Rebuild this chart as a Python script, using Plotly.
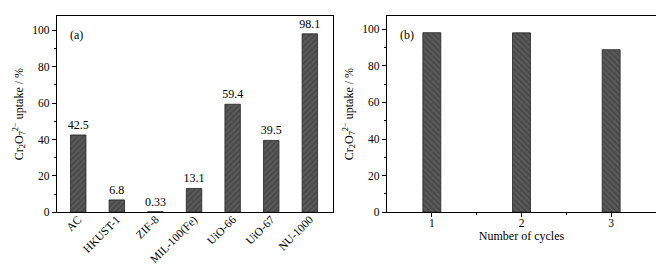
import plotly.graph_objects as go

materials = ["AC", "HKUST-1", "ZIF-8", "MIL-100(Fe)", "UiO-66", "UiO-67", "NU-1000"]
uptake = [42.5, 6.8, 0.33, 13.1, 59.4, 39.5, 98.1]
uptake_labels = ["42.5", "6.8", "0.33", "13.1", "59.4", "39.5", "98.1"]

cycles = [1, 2, 3]
cycle_uptake = [98.1, 98.0, 88.8]

FONT = "Liberation Serif"
FS = 11.5
ytitle = "Cr<sub>2</sub>O<sub>7</sub><sup>2−</sup> uptake / %"

fig = go.Figure()
fig.add_trace(go.Bar(
    x=list(range(len(materials))), y=uptake, text=uptake_labels,
    textposition="outside", cliponaxis=False, constraintext="none",
    textfont=dict(family=FONT, size=12, color="black"),
    width=0.4,
    marker=dict(color="#444", line=dict(color="#222", width=0.8),
                pattern=dict(shape="/", fgcolor="#2a2a2a", bgcolor="#595959", size=4, solidity=0.3)),
    xaxis="x", yaxis="y", showlegend=False))
fig.add_trace(go.Bar(
    x=cycles, y=cycle_uptake, width=0.2,
    marker=dict(color="#444", line=dict(color="#222", width=0.8),
                pattern=dict(shape="\\", fgcolor="#2a2a2a", bgcolor="#595959", size=4, solidity=0.3)),
    xaxis="x2", yaxis="y2", showlegend=False))

axcommon = dict(showline=True, linecolor="black", linewidth=1.2, mirror=True,
                showgrid=False, zeroline=False, tickcolor="black",
                tickfont=dict(family=FONT, size=FS, color="black"))

fig.update_layout(
    width=664, height=265, margin=dict(l=0, r=0, t=0, b=0),
    paper_bgcolor="white", plot_bgcolor="white",
    font=dict(family=FONT, color="black"),
    xaxis=dict(domain=[49/664, 325/664], range=[-0.55, 6.6],
               tickmode="array", tickvals=list(range(len(materials))), ticktext=materials,
               tickangle=-45, ticks="", ticklabelstandoff=-5, anchor="y", **axcommon),
    yaxis=dict(domain=[1-209/265, 1-8/265], range=[0, 108], tickvals=[0, 20, 40, 60, 80, 100],
               ticks="outside", ticklen=4,
               minor=dict(tickvals=[10, 30, 50, 70, 90], ticks="outside", ticklen=2, tickcolor="black"),
               title=dict(text=ytitle, font=dict(family=FONT, size=12), standoff=6),
               anchor="x", **axcommon),
    xaxis2=dict(domain=[379/664, 648/664], range=[0.5, 3.5], tickvals=[1, 2, 3],
                ticks="outside", ticklen=4, ticklabelstandoff=-4,
                minor=dict(tickvals=[1.5, 2.5], ticks="outside", ticklen=2, tickcolor="black"),
                title=dict(text="Number of cycles", font=dict(family=FONT, size=12), standoff=2),
                anchor="y2", **axcommon),
    yaxis2=dict(domain=[1-209/265, 1-8/265], range=[0, 107.3], tickvals=[0, 20, 40, 60, 80, 100],
                ticks="outside", ticklen=4,
                minor=dict(tickvals=[10, 30, 50, 70, 90], ticks="outside", ticklen=2, tickcolor="black"),
                title=dict(text=ytitle, font=dict(family=FONT, size=12), standoff=6),
                anchor="x2", **axcommon),
    annotations=[
        dict(text="(a)", x=0.04, y=0.95, xref="x domain", yref="y domain", showarrow=False,
             xanchor="left", yanchor="top", font=dict(family=FONT, size=12)),
        dict(text="(b)", x=0.04, y=0.95, xref="x2 domain", yref="y2 domain", showarrow=False,
             xanchor="left", yanchor="top", font=dict(family=FONT, size=12)),
    ],
)

fig.write_html("out.html")
